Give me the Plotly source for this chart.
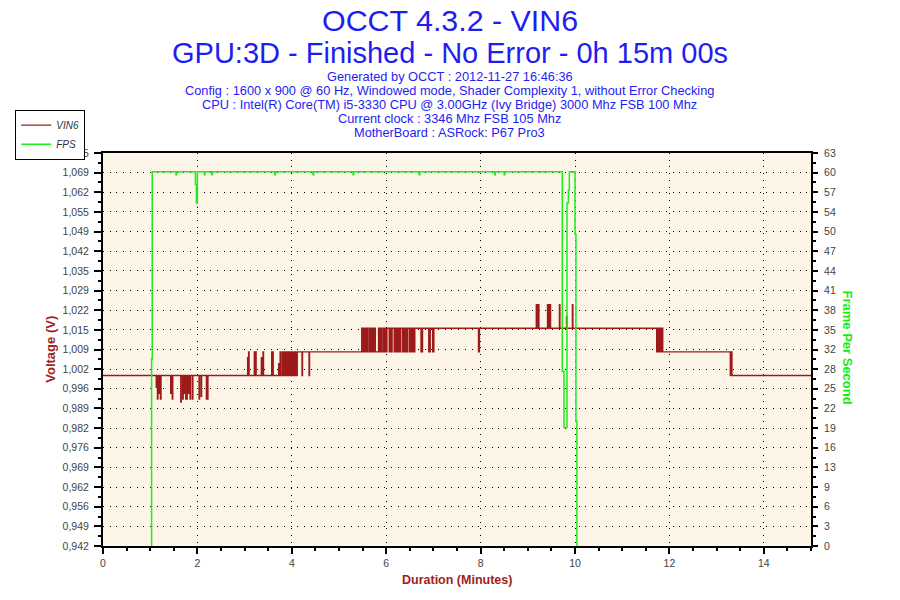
import numpy as np
import plotly.graph_objects as go

# ---------------- text ----------------
TITLE_1 = "OCCT 4.3.2 - VIN6"
TITLE_2 = "GPU:3D - Finished - No Error - 0h 15m 00s"
SUBTITLES = [
    "Generated by OCCT : 2012-11-27 16:46:36",
    "Config : 1600 x 900 @ 60 Hz, Windowed mode, Shader Complexity 1, without Error Checking",
    "CPU : Intel(R) Core(TM) i5-3330 CPU @ 3.00GHz (Ivy Bridge) 3000 Mhz FSB 100 Mhz",
    "Current clock : 3346 Mhz FSB 105 Mhz",
    "MotherBoard : ASRock: P67 Pro3",
]
X_TITLE = "Duration (Minutes)"
Y_TITLE = "Voltage (V)"
Y2_TITLE = "Frame Per Second"

# ---------------- data (step change points, minutes) ----------------
VIN6_T = [
    0.000,
    1.128, 1.138, 1.153, 1.163, 1.189, 1.199, 1.217, 1.229,
    1.434, 1.444, 1.468, 1.478,
    1.647, 1.657, 1.689, 1.699, 1.717, 1.727, 1.753, 1.763, 1.774, 1.784,
    1.809, 1.819, 1.845, 1.855, 1.894, 1.904,
    2.036, 2.046, 2.079, 2.089, 2.191, 2.201, 2.213, 2.223,
    3.064, 3.074, 3.085, 3.095, 3.206, 3.216, 3.234, 3.244, 3.355, 3.365,
    3.391, 3.401, 3.574, 3.584, 3.596, 3.606, 3.723, 3.733, 3.753, 3.763,
    3.796, 3.806, 3.823, 3.833, 3.845, 3.855,
    3.866, 3.876, 3.884, 3.894, 3.900, 3.910, 3.916, 3.926, 3.930, 3.945,
    3.952, 3.962, 3.968, 3.985, 3.990, 4.000, 4.006, 4.020, 4.026, 4.036,
    4.042, 4.055, 4.060, 4.072, 4.078, 4.090, 4.096, 4.106,
    4.115, 4.217, 4.227, 4.366, 4.376,
    5.482, 5.492, 5.504, 5.514, 5.532, 5.542, 5.568, 5.578, 5.604, 5.614,
    5.647, 5.660, 5.674, 5.684, 5.711, 5.722, 5.738, 5.748, 5.760, 5.770,
    5.838, 5.848, 5.859, 5.869, 5.880, 5.890, 5.902, 5.912, 5.945, 5.955,
    5.966, 5.976, 5.994, 6.004,
    6.015,
    6.064, 6.074, 6.100, 6.108, 6.115, 6.125, 6.170, 6.180, 6.191, 6.201,
    6.228, 6.238, 6.255, 6.265, 6.277, 6.287, 6.298, 6.308, 6.349, 6.359,
    6.383, 6.393, 6.404, 6.414, 6.440, 6.450, 6.489, 6.499, 6.504, 6.514,
    6.540, 6.550, 6.568, 6.578, 6.596, 6.606, 6.738, 6.748, 6.760, 6.770,
    6.902, 6.912, 6.923, 6.933, 6.984, 6.992, 7.000, 7.010,
    7.955, 7.975,
    9.180, 9.190, 9.205, 9.215, 9.225, 9.235, 9.418, 9.428, 9.440, 9.450,
    9.470, 9.482, 9.670, 9.680, 9.820, 9.830, 9.945, 9.955,
    11.731, 11.760, 11.787, 11.800, 11.816, 11.830, 11.859,
    13.290, 13.310, 13.325,
    15.000,
]
VIN6_V = [
    1.000,
    0.996, 1.000, 0.992, 1.000, 0.994, 1.000, 0.992, 1.000,
    0.994, 1.000, 0.992, 1.000,
    0.991, 1.000, 0.992, 1.000, 0.994, 1.000, 0.992, 1.000, 0.992, 1.000,
    0.994, 1.000, 0.992, 1.000, 0.992, 1.000,
    0.992, 1.000, 0.993, 1.000, 0.992, 1.000, 0.992, 1.000,
    1.006, 1.000, 1.008, 1.000, 1.008, 1.000, 1.008, 1.000, 1.006, 1.000,
    1.008, 1.000, 1.008, 1.000, 1.008, 1.000, 1.004, 1.000, 1.008, 1.000,
    1.008, 1.000, 1.008, 1.000, 1.008, 1.000,
    1.008, 1.000, 1.008, 1.000, 1.008, 1.000, 1.008, 1.000, 1.008, 1.000,
    1.008, 1.000, 1.008, 1.000, 1.008, 1.000, 1.008, 1.000, 1.008, 1.000,
    1.008, 1.000, 1.008, 1.000, 1.008, 1.000, 1.008, 1.000,
    1.008, 1.000, 1.008, 1.000, 1.008,
    1.016, 1.008, 1.016, 1.008, 1.016, 1.008, 1.016, 1.008, 1.016, 1.008,
    1.016, 1.008, 1.016, 1.008, 1.016, 1.008, 1.016, 1.008, 1.016, 1.008,
    1.016, 1.008, 1.016, 1.008, 1.016, 1.008, 1.016, 1.008, 1.016, 1.008,
    1.016, 1.008, 1.016, 1.008,
    1.016,
    1.008, 1.016, 1.008, 1.016, 1.008, 1.016, 1.008, 1.016, 1.008, 1.016,
    1.008, 1.016, 1.008, 1.016, 1.008, 1.016, 1.008, 1.016, 1.008, 1.016,
    1.008, 1.016, 1.008, 1.016, 1.008, 1.016, 1.008, 1.016, 1.008, 1.016,
    1.008, 1.016, 1.008, 1.016, 1.008, 1.016, 1.008, 1.016, 1.008, 1.016,
    1.008, 1.016, 1.008, 1.016, 1.008, 1.016, 1.008, 1.016,
    1.008, 1.016,
    1.024, 1.016, 1.024, 1.016, 1.024, 1.016, 1.024, 1.016, 1.024, 1.016,
    1.024, 1.016, 1.024, 1.016, 1.020, 1.016, 1.024, 1.016,
    1.008, 1.016, 1.008, 1.016, 1.008, 1.016, 1.008,
    1.000, 1.008, 1.000,
    1.000,
]
FPS_T = [1.028, 1.030, 1.043, 1.547, 1.560, 1.958, 1.979, 2.000, 2.149, 2.160,
         2.306, 2.318, 3.640, 3.652, 4.450, 4.462, 5.300, 5.312, 6.700, 6.712,
         8.300, 8.312, 8.500, 8.512, 9.731, 9.766, 9.830, 9.860, 9.880,
         10.000, 10.020, 10.040]
FPS_V = [0, 30, 60, 59.5, 60, 58, 55, 60, 59.5, 60,
         59.5, 60, 59.5, 60, 59.5, 60, 59.5, 60, 59.5, 60,
         59.5, 60, 59.5, 60, 28, 19, 55, 57, 60,
         50, 20, 0]

# ---------------- axes ----------------
X_RANGE = [0, 15]
X_TICKS = [0, 2, 4, 6, 8, 10, 12, 14]
X_MINOR = [0.5, 1, 1.5, 2.5, 3, 3.5, 4.5, 5, 5.5, 6.5, 7, 7.5, 8.5, 9, 9.5,
           10.5, 11, 11.5, 12.5, 13, 13.5, 14.5, 15]
V_RANGE = [0.9423, 1.0753]
V_TICK_LABELS = ["0,942", "0,949", "0,956", "0,962", "0,969", "0,976", "0,982",
                 "0,989", "0,996", "1,002", "1,009", "1,015", "1,022", "1,029",
                 "1,035", "1,042", "1,049", "1,055", "1,062", "1,069", "1,075"]
FPS_RANGE = [0, 63]
FPS_TICK_LABELS = ["0", "3", "6", "9", "13", "16", "19", "22", "25", "28", "32",
                   "35", "38", "41", "44", "47", "50", "54", "57", "60", "63"]

v_ticks = np.linspace(V_RANGE[0], V_RANGE[1], len(V_TICK_LABELS))
v_minor = (v_ticks[:-1] + v_ticks[1:]) / 2
f_ticks = np.linspace(FPS_RANGE[0], FPS_RANGE[1], len(FPS_TICK_LABELS))
f_minor = (f_ticks[:-1] + f_ticks[1:]) / 2

# ---------------- style ----------------
W, H = 900, 600
PX_L, PX_R, PX_T, PX_B = 103.3, 811.5, 153.3, 545.7
RED = "#9E1A1A"
GREEN = "#1AEE1A"
BLUE = "#1E1EF0"
FONT = "Liberation Sans, Arial"
TICK_FONT = dict(family=FONT, size=10.5, color="#444444")
GRID_DASH = "1px,5.7px"


def px_x(px):
    return (px - PX_L) / (PX_R - PX_L)


def px_y(py):
    return (PX_B - py) / (PX_B - PX_T)


fig = go.Figure()
fig.add_trace(go.Scatter(x=VIN6_T, y=VIN6_V, mode="lines", name="VIN6",
                         line=dict(color=RED, width=1.4, shape="hv"), yaxis="y"))
fig.add_trace(go.Scatter(x=FPS_T, y=FPS_V, mode="lines", name="FPS",
                         line=dict(color=GREEN, width=1.5, shape="hv"), yaxis="y2"))

common_line = dict(showline=True, linecolor="black", linewidth=2, zeroline=False,
                   automargin=False)
overlay_common = dict(showticklabels=False, showgrid=False, showline=False,
                      zeroline=False, automargin=False)

fig.update_layout(
    width=W, height=H,
    margin=dict(l=PX_L, r=W - PX_R, t=PX_T, b=H - PX_B, pad=0, autoexpand=False),
    paper_bgcolor="white",
    plot_bgcolor="#FDF6E8",
    showlegend=True,
    legend=dict(x=px_x(15.5), y=px_y(110), xanchor="left", yanchor="top",
                bgcolor="white", bordercolor="black", borderwidth=1,
                font=dict(family=FONT, size=10, color="#333333", style="italic"),
                itemwidth=30, tracegroupgap=0),
    xaxis=dict(range=X_RANGE, tickmode="array", tickvals=X_TICKS,
               ticks="outside", ticklen=6, tickwidth=1.5, tickcolor="black",
               minor=dict(tickmode="array", tickvals=X_MINOR, ticks="outside",
                          ticklen=3, tickwidth=1.5, tickcolor="black", showgrid=False),
               showgrid=True, gridcolor="black", gridwidth=1, griddash=GRID_DASH,
               tickfont=TICK_FONT, mirror=True, **common_line),
    xaxis2=dict(overlaying="x", anchor="y", range=X_RANGE, tickmode="array",
                tickvals=X_TICKS, ticks="inside", ticklen=6, tickwidth=1.5,
                tickcolor="black",
                minor=dict(tickmode="array", tickvals=X_MINOR, ticks="inside",
                           ticklen=3, tickwidth=1.5, tickcolor="black", showgrid=False),
                **overlay_common),
    yaxis=dict(range=V_RANGE, tickmode="array", tickvals=v_ticks, ticktext=V_TICK_LABELS,
               ticks="outside", ticklen=7, tickwidth=1.5, tickcolor="black",
               minor=dict(tickmode="array", tickvals=v_minor, ticks="outside",
                          ticklen=3, tickwidth=1.5, tickcolor="black", showgrid=False),
               showgrid=True, gridcolor="black", gridwidth=1, griddash=GRID_DASH,
               tickfont=TICK_FONT, ticklabelstandoff=3, **common_line),
    yaxis2=dict(range=FPS_RANGE, overlaying="y", side="right", anchor="x",
                tickmode="array", tickvals=f_ticks, ticktext=FPS_TICK_LABELS,
                ticks="outside", ticklen=5, tickwidth=1.5, tickcolor="black",
                minor=dict(tickmode="array", tickvals=f_minor, ticks="outside",
                           ticklen=3, tickwidth=1.5, tickcolor="black", showgrid=False),
                showgrid=False, tickfont=TICK_FONT, ticklabelstandoff=4, **common_line),
    yaxis3=dict(range=V_RANGE, overlaying="y", side="left", anchor="x",
                tickmode="array", tickvals=v_ticks, ticks="inside", ticklen=6,
                tickwidth=1.5, tickcolor="black",
                minor=dict(tickmode="array", tickvals=v_minor, ticks="inside",
                           ticklen=3, tickwidth=1.5, tickcolor="black", showgrid=False),
                **overlay_common),
    yaxis4=dict(range=FPS_RANGE, overlaying="y", side="right", anchor="x",
                tickmode="array", tickvals=f_ticks, ticks="inside", ticklen=4,
                tickwidth=1.5, tickcolor="black",
                minor=dict(tickmode="array", tickvals=f_minor, ticks="inside",
                           ticklen=3, tickwidth=1.5, tickcolor="black", showgrid=False),
                **overlay_common),
)

annotations = []
annotations.append(dict(text=TITLE_1, x=px_x(450), y=px_y(21), xref="paper", yref="paper",
                        showarrow=False, xanchor="center", yanchor="middle",
                        font=dict(family=FONT, size=30.4, color=BLUE)))
annotations.append(dict(text=TITLE_2, x=px_x(450), y=px_y(53), xref="paper", yref="paper",
                        showarrow=False, xanchor="center", yanchor="middle",
                        font=dict(family=FONT, size=29, color=BLUE)))
SUB_FONT = dict(family=FONT, size=12.8, color=BLUE)
for i, s in enumerate(SUBTITLES):
    annotations.append(dict(text=s, x=px_x(450), y=px_y(76.5 + 14 * i), xref="paper",
                            yref="paper", showarrow=False, xanchor="center",
                            yanchor="middle", font=SUB_FONT))
annotations.append(dict(text="<b>" + X_TITLE + "</b>", x=px_x(457), y=px_y(580),
                        xref="paper", yref="paper", showarrow=False,
                        xanchor="center", yanchor="middle",
                        font=dict(family=FONT, size=12.5, color="#A01E1E")))
annotations.append(dict(text="<b>" + Y_TITLE + "</b>", x=px_x(51), y=px_y(349),
                        xref="paper", yref="paper", showarrow=False, textangle=-90,
                        xanchor="center", yanchor="middle",
                        font=dict(family=FONT, size=13, color="#A01E1E")))
annotations.append(dict(text="<b>" + Y2_TITLE + "</b>", x=px_x(848), y=px_y(348),
                        xref="paper", yref="paper", showarrow=False, textangle=90,
                        xanchor="center", yanchor="middle",
                        font=dict(family=FONT, size=13, color="#11EE11")))
fig.update_layout(annotations=annotations)

# remove the default page margin so the figure sits at the window's top-left corner
fig.write_html("out.html", config={"displayModeBar": False},
               post_script="document.body.style.margin='0px';")
